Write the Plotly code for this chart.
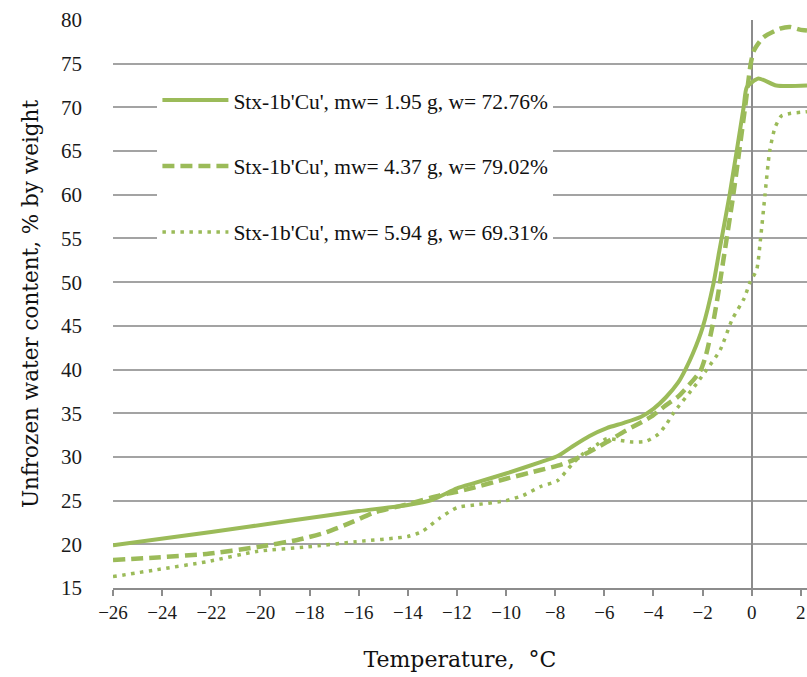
import plotly.graph_objects as go

# ---- data ----
t1 = [-26, -22, -18.8, -16, -14, -13, -12, -11.3, -10, -8.6, -7.9, -7.3, -6.6, -5.9, -5.2,
      -4.5, -4.0, -3.5, -3.0, -2.7, -2.4, -2.0, -1.56, -1.33, -0.9, -0.33, -0.2, 0.27, 1.0, 2.25]
y1 = [19.9, 21.4, 22.7, 23.8, 24.5, 25.1, 26.4, 27.0, 28.1, 29.4, 30.1, 31.2, 32.4, 33.3, 33.9,
      34.6, 35.5, 36.8, 38.5, 40.0, 41.8, 44.8, 49.8, 53.4, 60.0, 70.0, 72.3, 73.3, 72.5, 72.5]

t2 = [-26, -24.2, -22.2, -20.1, -18.5, -17.4, -16.3, -15.4, -14.0, -12.7, -12, -11.3, -10,
      -8.6, -7.9, -7.3, -6.6, -5.9, -5.2, -4.8, -4.1, -3.5, -3.0, -2.1, -1.85, -1.56, -1.37,
      -1.15, -0.75, -0.27, -0.04, 0.09, 0.47, 1.15, 1.56, 1.96, 2.25]
y2 = [18.2, 18.5, 18.9, 19.7, 20.5, 21.3, 22.5, 23.6, 24.6, 25.6, 26.0, 26.5, 27.5,
      28.5, 29.0, 29.6, 30.6, 31.7, 32.9, 33.5, 34.6, 35.9, 36.9, 39.8, 41.8, 45.5, 48.6,
      52.6, 60.0, 70.0, 75.0, 76.5, 78.0, 79.0, 79.2, 78.9, 78.8]

t3 = [-26, -24.2, -22.2, -20.1, -18.1, -16.1, -14.0, -13.4, -12.7, -12, -11.3, -10, -9.3,
      -8.6, -7.9, -7.3, -6.85, -6.3, -5.9, -5.35, -4.83, -4.3, -3.8, -3.46, -3.19, -2.24,
      -1.83, -1.29, -0.8, -0.3, -0.07, 0.2, 0.36, 0.54, 0.73, 0.95, 1.2, 1.56, 2.25]
y3 = [16.3, 17.1, 18.0, 19.2, 19.7, 20.3, 20.9, 21.5, 23.0, 24.2, 24.5, 25.0, 25.6,
      26.6, 27.3, 29.2, 30.4, 31.4, 32.1, 31.9, 31.7, 31.8, 32.6, 33.8, 35.0, 38.4,
      40.0, 42.2, 45.7, 48.2, 50.0, 51.4, 55.0, 60.0, 65.0, 67.7, 69.0, 69.3, 69.5]

names = ["Stx-1b'Cu', mw= 1.95 g, w= 72.76%",
         "Stx-1b'Cu', mw= 4.37 g, w= 79.02%",
         "Stx-1b'Cu', mw= 5.94 g, w= 69.31%"]

x_ticks = list(range(-26, 3, 2))
y_ticks = list(range(15, 81, 5))

GREEN = "#9BBB59"
GRID = "#A3A3A3"
SERIF = "Liberation Serif, Times New Roman, serif"
WIDE_SERIF = "DejaVu Serif, serif"

fig = go.Figure()
fig.add_trace(go.Scatter(x=t1, y=y1, mode="lines", name=names[0], legendgroup="a",
                         line=dict(color=GREEN, width=4, shape="spline", smoothing=0.6)))
fig.add_trace(go.Scatter(x=t2, y=y2, mode="lines", name=names[1], legendgroup="b",
                         line=dict(color=GREEN, width=4.5, dash="12px,6px", shape="spline", smoothing=0.6)))
fig.add_trace(go.Scatter(x=t3, y=y3, mode="lines", name=names[2], legendgroup="c",
                         line=dict(color=GREEN, width=3.5, dash="3.5px,5.5px", shape="spline", smoothing=0.6)))

fig.update_layout(
    width=807, height=677,
    margin=dict(l=113, r=0, t=20, b=89),
    paper_bgcolor="white", plot_bgcolor="white",
    font=dict(family=SERIF, color="#1a1a1a"),
    legend=dict(x=0.064, y=0.895, xanchor="left", yanchor="top",
                bgcolor="white", borderwidth=0,
                font=dict(family=SERIF, size=21.5, color="#111"),
                traceorder="grouped", tracegroupgap=35, itemwidth=66),
    xaxis=dict(range=[-26, 2.25], tickvals=x_ticks, showgrid=False,
               ticks="outside", ticklen=6, tickcolor="#8C8C8C", tickwidth=1.5,
               showline=True, linecolor="#8C8C8C", linewidth=1.5,
               zeroline=True, zerolinecolor="#8C8C8C", zerolinewidth=1.5,
               tickfont=dict(family=SERIF, size=19, color="#1a1a1a"),
               title=dict(text="Temperature,  °C", font=dict(family=WIDE_SERIF, size=22, color="#111"),
                          standoff=30)),
    yaxis=dict(range=[15, 80], tickvals=y_ticks, showgrid=True, gridcolor=GRID, gridwidth=1.5,
               zeroline=False, showline=False, ticks="", ticklabelstandoff=30,
               tickfont=dict(family=SERIF, size=21, color="#1a1a1a"),
               title=dict(text="Unfrozen water content, % by weight",
                          font=dict(family=WIDE_SERIF, size=21.5, color="#111"), standoff=16)),
)

fig.write_html("out.html")
